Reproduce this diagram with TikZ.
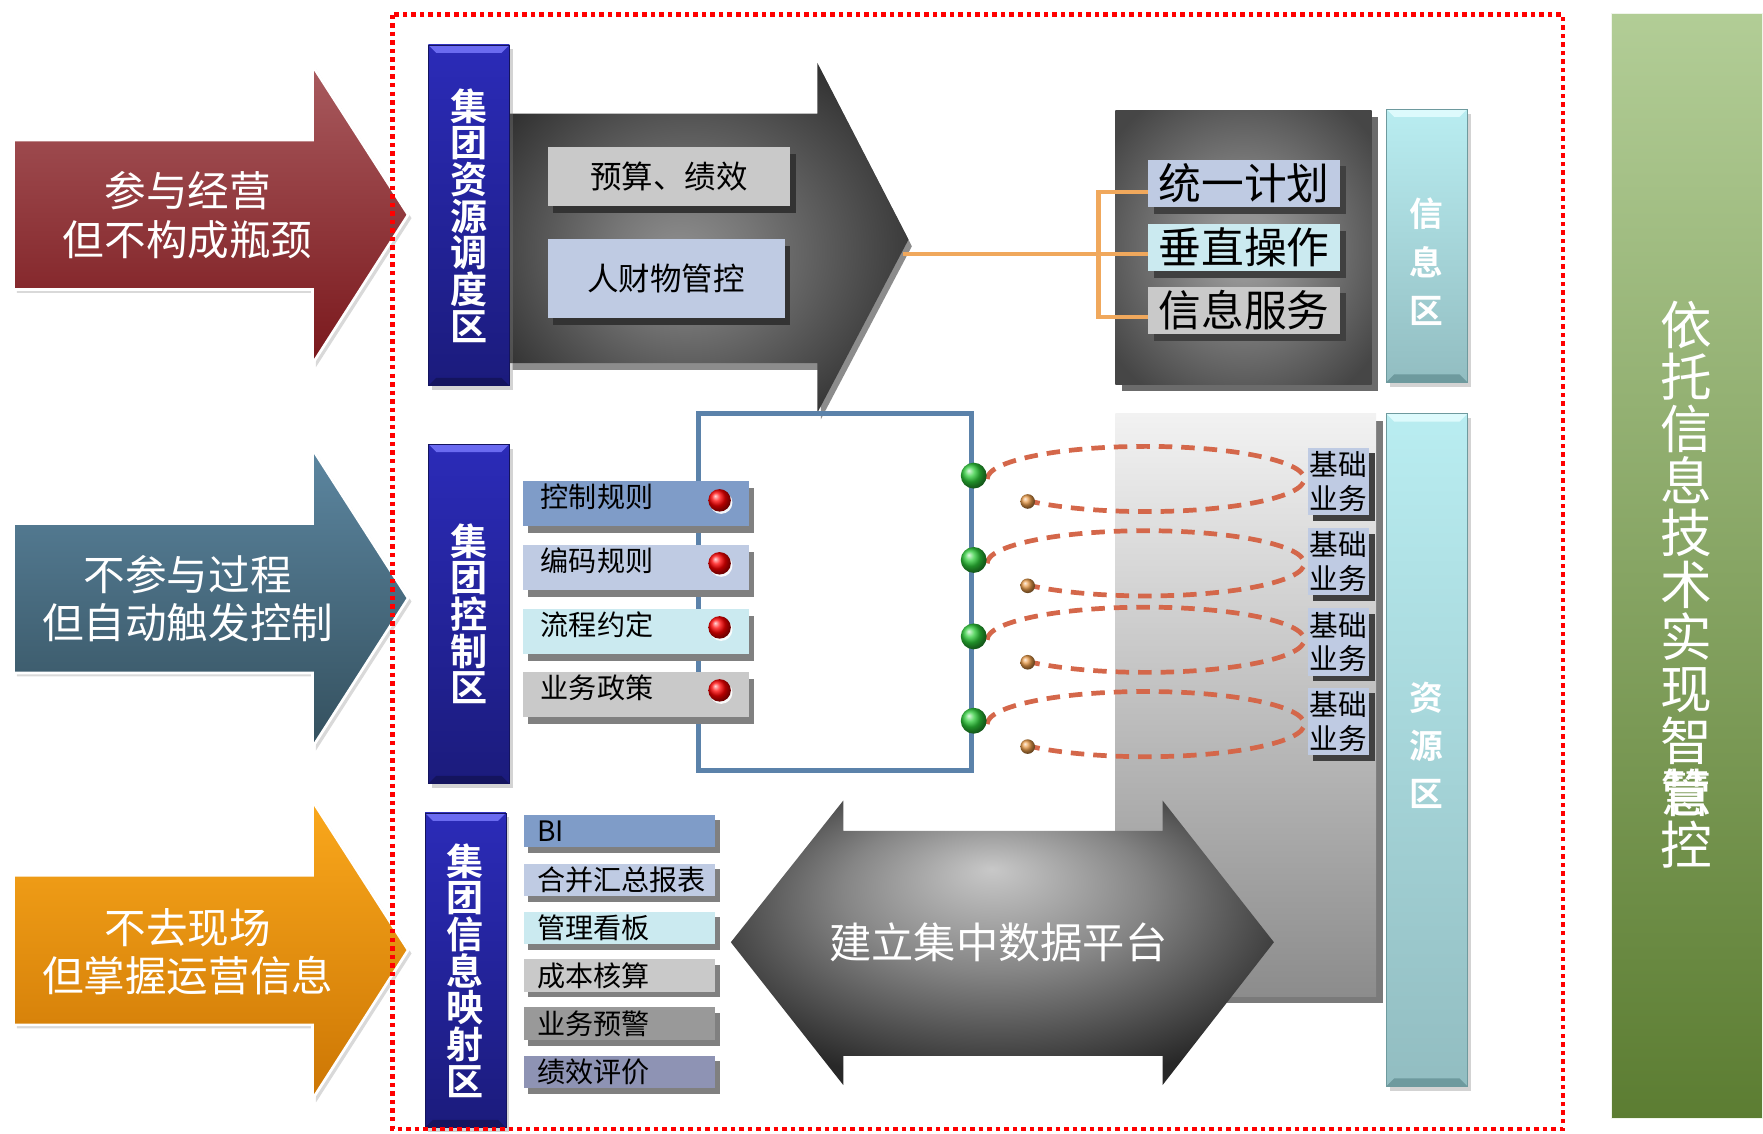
\documentclass[tikz,border=0pt]{standalone}
\usepackage{fontspec}
\newfontfamily\zh{Noto Sans CJK SC}[BoldFont={Noto Sans CJK SC Bold}]
\usetikzlibrary{shadows,calc}
\pgfdeclarelayer{fg}
\pgfsetlayers{main,fg}

\definecolor{redT}{HTML}{A85A5E}
\definecolor{redB}{HTML}{7A181C}
\definecolor{bluT}{HTML}{5C86A0}
\definecolor{bluB}{HTML}{34505E}
\definecolor{oraT}{HTML}{FAA81C}
\definecolor{oraB}{HTML}{CC7604}
\definecolor{navyT}{HTML}{2B2BB8}
\definecolor{navyB}{HTML}{1B1B7C}
\definecolor{navyL}{HTML}{6A6AF0}
\definecolor{navyD}{HTML}{14145E}
\definecolor{cyanT}{HTML}{B9EDF1}
\definecolor{cyanB}{HTML}{92BDC1}
\definecolor{cyanL}{HTML}{DDFAFC}
\definecolor{cyanD}{HTML}{6E9A9E}
\definecolor{grnT}{HTML}{B2CD96}
\definecolor{grnM}{HTML}{6B8F3F}
\definecolor{grnB}{HTML}{5C7D32}
\definecolor{c1}{HTML}{7F9CC8}
\definecolor{c2}{HTML}{BFCBE3}
\definecolor{c3}{HTML}{CBEAF0}
\definecolor{c4}{HTML}{C9C9C9}
\definecolor{c5}{HTML}{999999}
\definecolor{c6}{HTML}{8E93B4}
\definecolor{orl}{HTML}{F0A85C}
\definecolor{dshc}{HTML}{D4674A}
\definecolor{framec}{HTML}{5B82AA}
\definecolor{dkC}{HTML}{909090}
\definecolor{dkM}{HTML}{767676}
\definecolor{dkE}{HTML}{303030}
\definecolor{ibC}{HTML}{949494}
\definecolor{ibE}{HTML}{464646}
\definecolor{dbC}{HTML}{C8C8C8}
\definecolor{dbM}{HTML}{858585}
\definecolor{dbE}{HTML}{282828}
\definecolor{gball}{HTML}{2ECC3A}
\definecolor{oball}{HTML}{E89A48}
\definecolor{resT}{HTML}{F2F2F2}
\definecolor{resB}{HTML}{8C8C8C}

\pgfdeclareradialshading{darkrad}{\pgfpoint{-4bp}{-3bp}}{color(0bp)=(dkC);color(9bp)=(dkM);color(30bp)=(dkE);color(45bp)=(dkE)}
\pgfdeclareradialshading{inforad}{\pgfpoint{0bp}{0bp}}{color(0bp)=(ibC);color(6bp)=(ibC);color(32bp)=(ibE);color(45bp)=(ibE)}
\pgfdeclareradialshading{dblrad}{\pgfpoint{-1bp}{13bp}}{color(0bp)=(dbC);color(14bp)=(dbM);color(30bp)=(dbE);color(45bp)=(dbE)}

\newcommand\bigarrow[3]{\shade[top color=#2,bottom color=#3,draw=white,line width=1.2pt,drop shadow={opacity=0.3,shadow xshift=1.5pt,shadow yshift=-1.5pt}] (12,{#1-66.5}) -- (278,{#1-66.5}) -- (278,{#1-132.5}) -- (363,#1) -- (278,{#1+132.5}) -- (278,{#1+66.5}) -- (12,{#1+66.5}) -- cycle;}

\tikzset{
  wh/.style 2 args={minimum width={#1*0.5pt}, minimum height={#2*0.5pt}, inner sep=0pt},
  bevel/.style 2 args={path picture={
    \fill[#1] (path picture bounding box.north west) -- (path picture bounding box.north east) -- ([xshift=-3.5pt,yshift=-3.5pt]path picture bounding box.north east) -- ([xshift=3.5pt,yshift=-3.5pt]path picture bounding box.north west) -- cycle;
    \fill[#2] (path picture bounding box.south west) -- (path picture bounding box.south east) -- ([xshift=-3.5pt,yshift=3.5pt]path picture bounding box.south east) -- ([xshift=3.5pt,yshift=3.5pt]path picture bounding box.south west) -- cycle;}},
  armtext/.style={text=white, align=center, font=\zh\fontsize{18.5}{21.5}\selectfont},
  navybar/.style={top color=navyT, bottom color=navyB, draw=navyD, line width=0.3pt, drop shadow={opacity=0.35,shadow xshift=1.5pt,shadow yshift=-2pt}, bevel={navyL}{navyD}, text=white, align=center, font=\zh\bfseries\fontsize{16.5}{16.3}\selectfont},
  cyanbar/.style={top color=cyanT, bottom color=cyanB, draw=cyanD, line width=0.3pt, drop shadow={opacity=0.35,shadow xshift=1.5pt,shadow yshift=-2pt}, bevel={cyanL}{cyanD}},
  cyantext/.style={text=white, align=center, font=\zh\bfseries\fontsize{15}{21.5}\selectfont},
  greencol/.style={top color=grnT, middle color=grnM, bottom color=grnB, draw=white!80!grnT, line width=0.6pt},
  coltext/.style={text=white, align=center, font=\zh\fontsize{23}{23.15}\selectfont},
  resbox/.style={top color=resT, bottom color=resB, drop shadow={fill=black!52,opacity=1,shadow xshift=3pt,shadow yshift=-3pt}},
  darkbox/.style={shading=inforad, drop shadow={fill=black!58,opacity=1,shadow xshift=3pt,shadow yshift=-3pt}},
  tbox/.style={text=black, font=\zh\fontsize{14}{16}\selectfont, drop shadow={fill=black!80,opacity=1,shadow xshift=2.5pt,shadow yshift=-3pt}},
  ubox/.style={wh={171}{42}, text=black, font=\zh\fontsize{19}{21}\selectfont, drop shadow={fill=black!75,opacity=1,shadow xshift=2.5pt,shadow yshift=-3pt}},
  cbox/.style={wh={201}{40}, text width=84.5pt, align=left, text depth=7pt, text=black, font=\zh\fontsize{12.5}{15}\selectfont, drop shadow={fill=black!50,opacity=1,shadow xshift=2.5pt,shadow yshift=-3pt}},
  mbox/.style={wh={170}{29}, text width=73pt, align=left, text=black, font=\zh\fontsize{12.5}{15}\selectfont, drop shadow={fill=black!50,opacity=1,shadow xshift=2pt,shadow yshift=-2.5pt}},
  jbox/.style={wh={55}{60}, fill=c2, align=center, text=black, font=\zh\fontsize{12.75}{15}\selectfont, drop shadow={fill=black!75,opacity=1,shadow xshift=2.5pt,shadow yshift=-2.5pt}},
  rdot/.style={circle, inner sep=0pt, minimum size=10pt, ball color=red, drop shadow={fill=white,opacity=0.9,shadow xshift=0.7pt,shadow yshift=-1pt}},
  gdot/.style={circle, inner sep=0pt, minimum size=11.5pt, ball color=gball},
  odot/.style={circle, inner sep=0pt, minimum size=6.5pt, ball color=oball},
  orline/.style={draw=orl, line width=1.8pt},
  dshline/.style={draw=dshc, line width=2.1pt, dash pattern=on 6pt off 4pt},
  redframe/.style={draw=red, line width=2pt, dash pattern=on 2pt off 1.8pt},
  dbltext/.style={text=white, font=\zh\fontsize{18.8}{21}\selectfont}
}

\begin{document}
\begin{tikzpicture}[x=0.5pt,y=-0.5pt]
\useasboundingbox (0,0) rectangle (1568,1008);

% left arrows
\bigarrow{191}{redT}{redB}
\bigarrow{532}{bluT}{bluB}
\bigarrow{845}{oraT}{oraB}
\node[armtext] (a1) at (167,191.5) {参与经营\\但不构成瓶颈};
\node[armtext] (a2) at (167,532.5) {不参与过程\\但自动触发控制};
\node[armtext] (a3) at (167,846.5) {不去现场\\但掌握运营信息};

% green column
\node[greencol, wh={135}{983}] (gc) at (1500.5,503.5) {};
\node[coltext] (gt) at (1500,520) {依\\托\\信\\息\\技\\术\\实\\现\\智\\\rlap{慧}管\\控};

% resource and info boxes
\node[resbox, wh={232}{518}] (rb) at (1108,627) {};
\node[darkbox, wh={228}{244}] (ib) at (1106,220) {};

% dark arrow
\fill[black!45, shift={(3,6)}] (453,101) -- (727,101) -- (727,56) -- (808,213) -- (727,367) -- (727,323) -- (453,323) -- cycle;
\shade[shading=darkrad] (453,101) -- (727,101) -- (727,56) -- (808,213) -- (727,367) -- (727,323) -- (453,323) -- cycle;
\coordinate (dtip) at (803,226);

\node[tbox, fill=c4, wh={216}{52}] (t1) at (595,157) {预算、绩效};
\node[tbox, fill=c2, wh={211}{70}] (t2) at (592.5,248) {人财物管控};

% navy bars
\node[navybar, wh={72}{303}] (b1) at (417,191.5) {集\\团\\资\\源\\调\\度\\区};
\node[navybar, wh={72}{302}] (b2) at (417,546) {集\\团\\控\\制\\区};
\node[navybar, wh={72}{280}] (b3) at (414,863) {集\\团\\信\\息\\映\\射\\区};

% cyan bars
\node[cyanbar, wh={72}{243}] (ci) at (1269,218.5) {};
\node[cyantext] (cit) at (1269,233) {信\\息\\区};
\node[cyanbar, wh={72}{598}] (cr) at (1269,667) {};
\node[cyantext] (crt) at (1269,663) {资\\源\\区};

% info sub boxes
\node[ubox, fill=c2] (u1) at (1106.5,163) {统一计划};
\node[ubox, fill=c3] (u2) at (1106.5,220) {垂直操作};
\node[ubox, fill=c4] (u3) at (1106.5,276) {信息服务};

% orange connectors
\coordinate (brk) at (977,226);
\draw[orline] (dtip) -- (brk) -- ([yshift=-3pt]u2.west);
\draw[orline] ([yshift=-4pt]u1.west) -| (brk) |- ([yshift=-3pt]u3.west);

% blue frame
\node[draw=framec, line width=2.2pt, wh={243}{317}] (fr) at (742.5,526.5) {};

% control boxes
\node[cbox, fill=c1] (k1) at (565.5,448) {控制规则};
\node[cbox, fill=c2] (k2) at (565.5,505) {编码规则};
\node[cbox, fill=c3] (k3) at (565.5,561.5) {流程约定};
\node[cbox, fill=c4] (k4) at (565.5,618) {业务政策};
\node[rdot] (r1) at (640,445) {};
\node[rdot] (r2) at (640,501) {};
\node[rdot] (r3) at (640,558) {};
\node[rdot] (r4) at (640,614) {};

% ellipses and dots
\foreach \i/\y in {1/423,2/498,3/566,4/641} {
  \begin{pgfonlayer}{fg}
    \node[gdot] (g\i) at (866,\y) {};
    \node[odot] (o\i) at (914,\y+23) {};
  \end{pgfonlayer}
  \draw[dshline] ([xshift=6pt,yshift=-1.5pt]g\i.center) arc[start angle=180,end angle=497,x radius=141,y radius=29];
}

% basic business boxes
\node[jbox] (j1) at (1190.5,428) {基础\\业务};
\node[jbox] (j2) at (1190.5,499.5) {基础\\业务};
\node[jbox] (j3) at (1190.5,571) {基础\\业务};
\node[jbox] (j4) at (1190.5,641.5) {基础\\业务};

% info mapping boxes
\node[mbox, fill=c1] (m1) at (551,739) {BI};
\node[mbox, fill=c2] (m2) at (551,782.5) {合并汇总报表};
\node[mbox, fill=c3] (m3) at (551,825.5) {管理看板};
\node[mbox, fill=c4] (m4) at (551,867.5) {成本核算};
\node[mbox, fill=c5] (m5) at (551,910.5) {业务预警};
\node[mbox, fill=c6] (m6) at (551,953.5) {绩效评价};

% double arrow
\shade[shading=dblrad] (650,838) -- (750,712) -- (750,739) -- (1034,739) -- (1034,712) -- (1133,838) -- (1034,965) -- (1034,939) -- (750,939) -- (750,965) -- cycle;
\node[dbltext] (dt) at (888,838) {建立集中数据平台};

% red dotted frame
\draw[redframe] (349,13) rectangle (1390,1004);
\end{tikzpicture}
\end{document}
